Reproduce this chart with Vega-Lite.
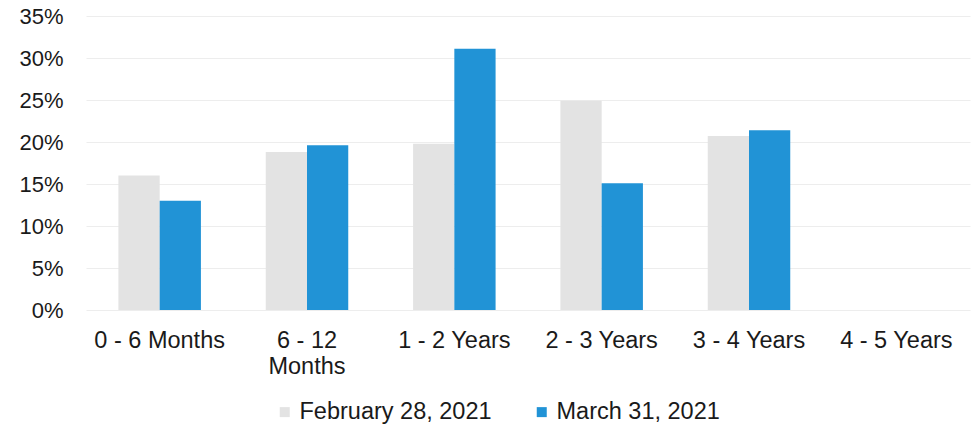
{
  "$schema": "https://vega.github.io/schema/vega-lite/v6.json",
  "width": 884,
  "height": 294,
  "autosize": {"type": "none"},
  "padding": {"left": 86, "top": 16, "right": 4, "bottom": 117},
  "background": "white",
  "config": {"view": {"stroke": null}, "font": "Liberation Sans"},
  "data": {
    "values": [
      {"bucket": "0 - 6 Months", "series": "February 28, 2021", "value": 0.16},
      {"bucket": "0 - 6 Months", "series": "March 31, 2021", "value": 0.13},
      {"bucket": "6 - 12 Months", "series": "February 28, 2021", "value": 0.188},
      {"bucket": "6 - 12 Months", "series": "March 31, 2021", "value": 0.196},
      {"bucket": "1 - 2 Years", "series": "February 28, 2021", "value": 0.198},
      {"bucket": "1 - 2 Years", "series": "March 31, 2021", "value": 0.311},
      {"bucket": "2 - 3 Years", "series": "February 28, 2021", "value": 0.249},
      {"bucket": "2 - 3 Years", "series": "March 31, 2021", "value": 0.151},
      {"bucket": "3 - 4 Years", "series": "February 28, 2021", "value": 0.207},
      {"bucket": "3 - 4 Years", "series": "March 31, 2021", "value": 0.214},
      {"bucket": "4 - 5 Years", "series": "February 28, 2021", "value": 0},
      {"bucket": "4 - 5 Years", "series": "March 31, 2021", "value": 0}
    ]
  },
  "mark": {"type": "bar"},
  "encoding": {
    "x": {
      "field": "bucket",
      "type": "nominal",
      "sort": null,
      "scale": {"paddingInner": 0.44, "paddingOuter": 0.22},
      "axis": {
        "title": null,
        "labelAngle": 0,
        "labelFontSize": 23.5,
        "labelColor": "#1a1a1a",
        "labelPadding": 18,
        "ticks": false,
        "domain": false,
        "labelLimit": 200,
        "labelLineHeight": 26,
        "labelExpr": "datum.value == '6 - 12 Months' ? ['6 - 12', 'Months'] : datum.value"
      }
    },
    "xOffset": {"field": "series", "type": "nominal", "sort": null},
    "y": {
      "field": "value",
      "type": "quantitative",
      "scale": {"domain": [0, 0.35], "nice": false},
      "axis": {
        "title": null,
        "format": ".0%",
        "values": [0, 0.05, 0.1, 0.15, 0.2, 0.25, 0.3, 0.35],
        "labelFontSize": 22,
        "labelColor": "#1a1a1a",
        "labelPadding": 23,
        "ticks": false,
        "domain": false,
        "gridColor": "#ededed",
        "gridWidth": 1
      }
    },
    "color": {
      "field": "series",
      "type": "nominal",
      "sort": null,
      "scale": {"domain": ["February 28, 2021", "March 31, 2021"], "range": ["#e3e3e3", "#2193d6"]},
      "legend": {
        "title": null,
        "orient": "none",
        "direction": "horizontal",
        "legendX": 187,
        "legendY": 384,
        "symbolType": "square",
        "symbolSize": 100,
        "symbolStrokeWidth": 0,
        "labelFontSize": 23.5,
        "labelColor": "#1a1a1a",
        "labelOffset": 3,
        "columnPadding": 38,
        "labelLimit": 300
      }
    }
  }
}
